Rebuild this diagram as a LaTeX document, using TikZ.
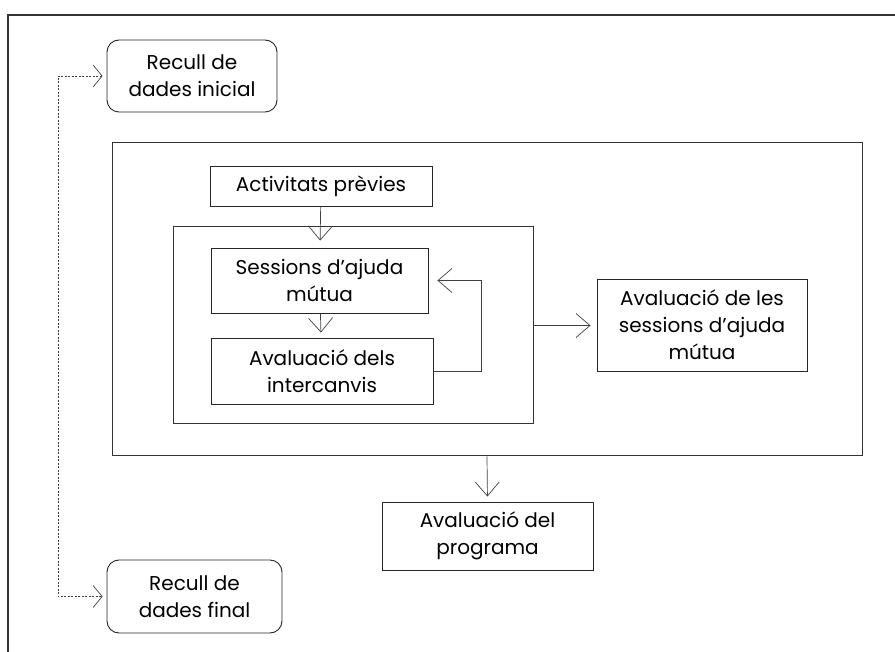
\documentclass[tikz,border=0pt]{standalone}
\usepackage{fontspec}
\setmainfont{Poppins}
\usetikzlibrary{arrows.meta}

\begin{document}
\begin{tikzpicture}
[x=1pt,y=-1pt,
  lineDecorate/.style={-{Straight Barb[length=14pt,width=24pt,line width=0.7pt]},line width=0.7pt,draw=black!75},
  dotDecorate/.style={lineDecorate,{Straight Barb[length=9pt,width=22pt,line width=0.7pt]}-{Straight Barb[length=9pt,width=22pt,line width=0.7pt]},dash pattern=on 2pt off 1.5pt,line width=0.6pt},
  boxDecorate/.style={shape=rectangle,draw=black!85,line width=0.9pt,inner sep=2pt,align=center,
    font=\fontsize{20}{27}\selectfont},
  roundDecorate/.style={boxDecorate,rounded corners=12pt},
  frameDecorate/.style={shape=rectangle,draw=black!80,line width=1pt,inner sep=0pt}]
\useasboundingbox (0,0) rectangle (895,652);
%%
%%%%%%%%%%%%%%%%%%%%%%%%%%%%%%%%%%%%%%%%%%%%%%%%%%%%%%%%%%%%%%%%%%%%%%%%%%%
%%
%% frames
\node (outer) at (457,340) [frameDecorate,minimum width=898pt,minimum height=650pt,line width=1.3pt] {};
\node (big) at (487,299.5) [frameDecorate,minimum width=750pt,minimum height=313pt] {};
\node (inner) at (353,325.5) [frameDecorate,minimum width=360pt,minimum height=197pt] {};
%%
%% boxes
\foreach \nodename/\x/\y/\w/\h/\txt in {
  act/321/186/222/40/{Activitats prèvies},
  ses/319.5/280.5/217/65/{Sessions d’ajuda\\mútua},
  ints/322/371/222/66/{Avaluació dels\\intercanvis},
  les/702/325/210/92/{Avaluació de les\\sessions d’ajuda\\mútua},
  prog/487.5/536/211/68/{Avaluació del\\programa}}
{
  \node (\nodename) at (\x,\y) [boxDecorate,minimum width=\w pt,minimum height=\h pt] {\txt};
}
%% rounded boxes
\foreach \nodename/\x/\y/\w/\h/\txt in {
  ini/192/76/170/72/{Recull de\\dades inicial},
  fin/194.5/596.5/175/73/{Recull de\\dades final}}
{
  \node (\nodename) at (\x,\y) [roundDecorate,minimum width=\w pt,minimum height=\h pt] {\txt};
}
%%
%%%%%%%%%%%%%%%%%%%%%%%%%%%%%%%%%%%%%%%%%%%%%%%%%%%%%%%%%%%%%%%%%%%%%%%%%%%
%%
%% arrows
\coordinate (dl) at (58,0);
\coordinate (loop) at (481,0);
\path
(act) edge[lineDecorate,shorten >=7pt] (ses)
(ses) edge[lineDecorate,shorten >=5pt] (ints)
(inner.east) edge[lineDecorate,shorten >=6pt] (inner.east -| les.west)
(big.south) edge[lineDecorate,shorten >=5pt] (prog.north);
\draw[lineDecorate,shorten >=9pt] (ints.east) -- (ints.east -| loop) -- (ses.east -| loop) -- (ses.east);
\draw[dotDecorate,shorten >=4pt,shorten <=4pt] (ini.west) -- (ini.west -| dl) -- (fin.west -| dl) -- (fin.west);
\end{tikzpicture}
\end{document}
